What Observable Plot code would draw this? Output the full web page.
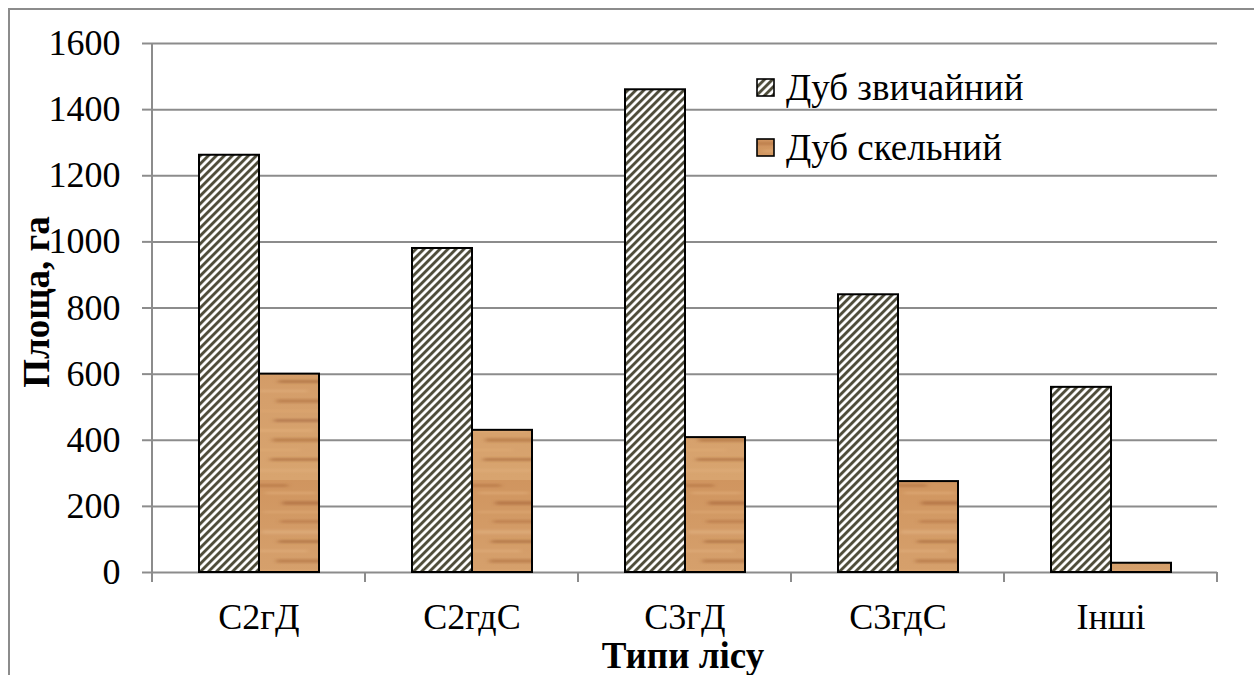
<!DOCTYPE html>
<html>
<head>
<meta charset="utf-8">
<script src="https://cdn.jsdelivr.net/npm/d3@7"></script>
<script src="https://cdn.jsdelivr.net/npm/@observablehq/plot@0.6"></script>
<style>
  html, body { margin: 0; padding: 0; background: #fff; overflow: hidden; }
  #wrap { position: relative; width: 1254px; height: 675px; font-family: "Liberation Serif", "Times New Roman", serif; color: #000; }
  #border { position: absolute; left: 8px; top: 8px; width: 1300px; height: 720px; border: 2px solid #8c8c8c; }
  #chart { position: absolute; left: 0; top: 0; }
  .ytitle { position: absolute; left: 36px; top: 302px; transform: translate(-50%, -50%) rotate(-90deg); font-weight: bold; font-size: 37px; white-space: nowrap; }
  .xtitle { position: absolute; left: 683px; top: 655px; transform: translate(-50%, -50%); font-weight: bold; font-size: 37px; white-space: nowrap; }
  .legend { position: absolute; left: 756px; font-size: 37px; line-height: 37px; white-space: nowrap; display: flex; align-items: center; }
</style>
</head>
<body>
<div id="wrap">
  <div id="border"></div>
  <div id="chart"></div>
  <div class="ytitle">Площа, га</div>
  <div class="xtitle">Типи лісу</div>
</div>
<script>
// Forest types and area (ha) occupied by each oak species
const categories = ["С2гД", "С2гдС", "С3гД", "С3гдС", "Інші"];
const series = ["Дуб звичайний", "Дуб скельний"];
const oakCommon = [1262, 980, 1460, 840, 560];
const oakSessile = [600, 430, 408, 275, 28];
const yTicks = [0, 200, 400, 600, 800, 1000, 1200, 1400, 1600];

const rows = categories.flatMap((c, i) => [
  {category: c, series: series[0], value: oakCommon[i]},
  {category: c, series: series[1], value: oakSessile[i]}
]);

const fills = {[series[0]]: "url(#hatch)", [series[1]]: "url(#wood)"};
const grid = "#8c8c8c";
const font = "'Liberation Serif', 'Times New Roman', serif";

const plot = Plot.plot({
  width: 1254, height: 675,
  marginLeft: 150, marginRight: 36, marginTop: 43, marginBottom: 103,
  style: {fontFamily: font, fontSize: "36px", color: "#000", background: "transparent", overflow: "visible"},
  fx: {domain: categories, padding: 0, label: null},
  x: {domain: series, paddingInner: 0, paddingOuter: 0.765, axis: null},
  y: {domain: [0, 1600], label: null},
  marks: [
    Plot.gridY(yTicks, {stroke: grid, strokeWidth: 2, strokeOpacity: 1}),
    ...series.map(s => Plot.barY(rows.filter(d => d.series === s), {
      fx: "category", x: "series", y: "value",
      fill: fills[s], stroke: "#000", strokeWidth: 2
    })),
    Plot.axisY(yTicks, {tickSize: 10, tickPadding: 22, stroke: grid, strokeWidth: 2, strokeOpacity: 1,
      fontSize: 36, tickFormat: d3.format("d"), label: null}),
    Plot.axisFx({anchor: "bottom", tickSize: 0, tickPadding: 31, fontSize: 36, label: null})
  ]
});

const svg = d3.select(plot);
svg.selectAll("text").attr("font-family", font);

// Fill patterns: upward diagonal hatch and wood grain
const defs = svg.insert("defs", ":first-child");
const hatch = defs.append("pattern")
  .attr("id", "hatch").attr("patternUnits", "userSpaceOnUse")
  .attr("width", 5.657).attr("height", 5.657).attr("patternTransform", "rotate(45)");
hatch.append("rect").attr("width", 5.657).attr("height", 5.657).attr("fill", "#fff");
hatch.append("rect").attr("width", 2.9).attr("height", 5.657).attr("fill", "#4f4d3b");

const blur = defs.append("filter").attr("id", "soft").attr("x", "-20%").attr("y", "-50%").attr("width", "140%").attr("height", "200%");
blur.append("feGaussianBlur").attr("stdDeviation", "2.5 1.2");

const wood = defs.append("pattern")
  .attr("id", "wood").attr("patternUnits", "userSpaceOnUse")
  .attr("width", 64).attr("height", 160);
const grad = defs.append("linearGradient").attr("id", "woodBase").attr("x1", 0).attr("y1", 0).attr("x2", 0).attr("y2", 1);
grad.append("stop").attr("offset", "0%").attr("stop-color", "#d0955f");
grad.append("stop").attr("offset", "50%").attr("stop-color", "#d59f6b");
grad.append("stop").attr("offset", "100%").attr("stop-color", "#d8a46f");
wood.append("rect").attr("width", 64).attr("height", 160).attr("fill", "url(#woodBase)");
const streakGroup = wood.append("g").attr("filter", "url(#soft)");
const streaks = [
  [4, 3, "#b07040", 0.6], [12, 2, "#e4b27f", 0.6], [21, 4, "#a8683a", 0.6],
  [31, 2, "#e0ac78", 0.6], [40, 3, "#b0703f", 0.55], [50, 4, "#e2b283", 0.55],
  [60, 3, "#a46538", 0.6], [70, 2, "#e6b684", 0.55], [79, 4, "#ad6d40", 0.55],
  [90, 2, "#dfa873", 0.6], [99, 3, "#a2643a", 0.6], [109, 3, "#e3b07c", 0.55],
  [118, 4, "#ab6b3d", 0.55], [129, 2, "#e0ab76", 0.6], [138, 3, "#a56639", 0.6],
  [149, 3, "#e2af7b", 0.5]
];
streaks.forEach(([y, h, c, o], i) => {
  streakGroup.append("rect").attr("x", (i * 17) % 36 - 10).attr("y", y)
    .attr("width", 40 + (i * 11) % 34).attr("height", h)
    .attr("fill", c).attr("opacity", o).attr("rx", h / 2);
});

// Vertical axis line and category boundary ticks on the horizontal axis
const fx = plot.scale("fx");
const y = plot.scale("y");
const y0 = y.apply(0), y1 = y.apply(1600);
const left = fx.apply(categories[0]);
const axes = svg.append("g").attr("stroke", grid).attr("stroke-width", 2);
axes.append("line").attr("x1", left).attr("x2", left).attr("y1", y1).attr("y2", y0 + 10);
categories.forEach((c, i) => {
  const xs = [fx.apply(c)];
  if (i === categories.length - 1) xs.push(fx.apply(c) + fx.bandwidth);
  xs.forEach(x => axes.append("line").attr("x1", x).attr("x2", x).attr("y1", y0).attr("y2", y0 + 10));
});

document.getElementById("chart").appendChild(plot);

// Legend placed inside the plot area
const wrap = document.getElementById("wrap");
series.forEach((s, i) => {
  const item = document.createElement("div");
  item.className = "legend";
  item.style.top = (68.5 + i * 60) + "px";
  const sw = document.createElementNS("http://www.w3.org/2000/svg", "svg");
  sw.setAttribute("width", 19); sw.setAttribute("height", 19);
  sw.style.marginRight = "11px";
  sw.innerHTML = `<rect x="1" y="1" width="17" height="17" fill="${fills[s]}" stroke="#000" stroke-width="1.6"/>`;
  item.appendChild(sw);
  item.appendChild(document.createTextNode(s));
  wrap.appendChild(item);
});
</script>
</body>
</html>
